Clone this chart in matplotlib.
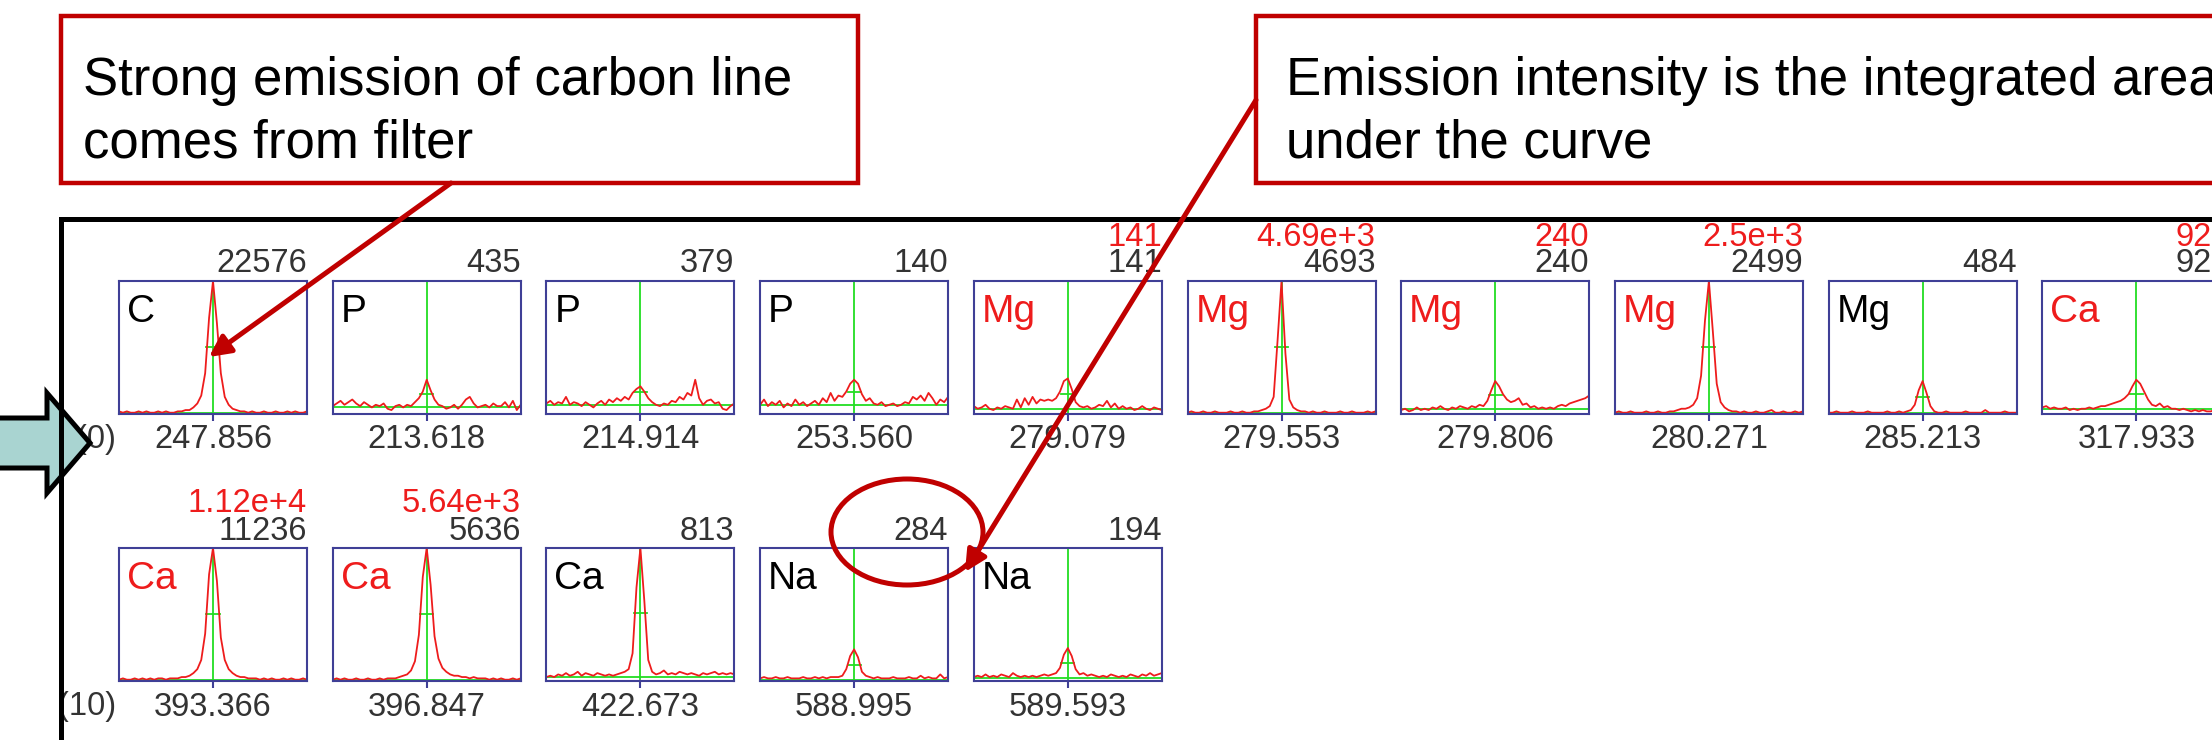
import numpy as np
import matplotlib.pyplot as plt
from matplotlib.patches import Rectangle, Ellipse, Polygon

plt.rcParams['font.family'] = ['Liberation Sans', 'DejaVu Sans']

W, H = 2212, 740

# Panel info (row 0 = first 10, row 1 = last 5)
elements = ["C", "P", "P", "P", "Mg", "Mg", "Mg", "Mg", "Mg", "Ca",
            "Ca", "Ca", "Ca", "Na", "Na"]
wavelengths = ["247.856", "213.618", "214.914", "253.560", "279.079", "279.553",
               "279.806", "280.271", "285.213", "317.933",
               "393.366", "396.847", "422.673", "588.995", "589.593"]
counts = ["22576", "435", "379", "140", "141", "4693", "240", "2499", "484", "920",
          "11236", "5636", "813", "284", "194"]
flag_counts = ["", "", "", "", "141", "4.69e+3", "240", "2.5e+3", "", "920",
               "1.12e+4", "5.64e+3", "", "", ""]
row_labels = ["(0)", "(10)"]
per_row = 10

# green fitted baseline level (fraction of panel height)
baselines = [0.0, 0.04, 0.06, 0.06, 0.03, 0.0, 0.03, 0.0, 0.0, 0.03,
             0.0, 0.0, 0.02, 0.0, 0.01]

# spectra, intensity as fraction of panel height, peak line in the middle
spec_c_247 = [0.01, 0.00, 0.01, 0.00, 0.00, 0.01, 0.00, 0.01, 0.00, 0.00, 0.01, 0.00, 0.01, 0.00, 0.00, 0.01,
              0.01, 0.02, 0.02, 0.04, 0.07, 0.13, 0.30, 0.72, 1.00, 0.68, 0.30, 0.12, 0.06, 0.03, 0.02, 0.01,
              0.01, 0.00, 0.01, 0.00, 0.00, 0.01, 0.00, 0.00, 0.01, 0.00, 0.00, 0.01, 0.00, 0.01, 0.00, 0.00, 0.01]
spec_p_213 = [0.05, 0.07, 0.09, 0.06, 0.08, 0.10, 0.07, 0.05, 0.08, 0.06, 0.04, 0.06, 0.05, 0.07, 0.03, 0.02,
              0.05, 0.06, 0.04, 0.06, 0.05, 0.08, 0.11, 0.16, 0.25, 0.17, 0.10, 0.06, 0.05, 0.03, 0.04, 0.06,
              0.03, 0.06, 0.10, 0.12, 0.07, 0.04, 0.05, 0.06, 0.04, 0.07, 0.05, 0.05, 0.08, 0.04, 0.09, 0.02, 0.06]
spec_p_214 = [0.07, 0.09, 0.06, 0.08, 0.07, 0.12, 0.06, 0.08, 0.07, 0.05, 0.08, 0.06, 0.04, 0.07, 0.09, 0.06,
              0.10, 0.08, 0.11, 0.09, 0.12, 0.10, 0.15, 0.18, 0.20, 0.16, 0.11, 0.08, 0.06, 0.05, 0.07, 0.06,
              0.09, 0.08, 0.12, 0.10, 0.15, 0.13, 0.25, 0.11, 0.06, 0.09, 0.10, 0.07, 0.08, 0.03, 0.02, 0.05, 0.07]
spec_p_253 = [0.06, 0.10, 0.05, 0.08, 0.06, 0.09, 0.04, 0.07, 0.05, 0.10, 0.06, 0.08, 0.05, 0.07, 0.09, 0.06,
              0.11, 0.08, 0.15, 0.09, 0.13, 0.12, 0.16, 0.22, 0.25, 0.22, 0.14, 0.09, 0.11, 0.07, 0.06, 0.08,
              0.05, 0.06, 0.07, 0.05, 0.06, 0.08, 0.07, 0.12, 0.10, 0.13, 0.09, 0.15, 0.11, 0.06, 0.10, 0.08, 0.12]
spec_mg_279079 = [0.05, 0.03, 0.04, 0.06, 0.03, 0.02, 0.04, 0.03, 0.05, 0.04, 0.03, 0.10, 0.04, 0.11, 0.06, 0.12,
                  0.07, 0.10, 0.09, 0.10, 0.09, 0.11, 0.16, 0.24, 0.26, 0.18, 0.08, 0.05, 0.04, 0.05, 0.03, 0.04,
                  0.06, 0.05, 0.09, 0.04, 0.07, 0.03, 0.05, 0.03, 0.04, 0.02, 0.03, 0.05, 0.03, 0.02, 0.04, 0.03, 0.02]
spec_mg_279553 = [0.00, 0.01, 0.00, 0.00, 0.01, 0.00, 0.00, 0.01, 0.00, 0.00, 0.00, 0.01, 0.00, 0.00, 0.01, 0.00,
                  0.00, 0.01, 0.01, 0.02, 0.03, 0.05, 0.12, 0.55, 1.00, 0.45, 0.10, 0.04, 0.02, 0.01, 0.01, 0.00,
                  0.01, 0.00, 0.00, 0.01, 0.00, 0.00, 0.00, 0.01, 0.00, 0.00, 0.01, 0.00, 0.00, 0.00, 0.01, 0.00, 0.01]
spec_mg_279806 = [0.02, 0.03, 0.01, 0.02, 0.04, 0.02, 0.03, 0.02, 0.04, 0.03, 0.05, 0.03, 0.02, 0.04, 0.03, 0.05,
                  0.04, 0.03, 0.05, 0.04, 0.06, 0.05, 0.09, 0.17, 0.24, 0.20, 0.14, 0.10, 0.08, 0.09, 0.11, 0.06,
                  0.07, 0.04, 0.05, 0.03, 0.04, 0.03, 0.04, 0.03, 0.05, 0.06, 0.05, 0.07, 0.08, 0.09, 0.10, 0.11, 0.13]
spec_mg_280271 = [0.00, 0.01, 0.00, 0.00, 0.01, 0.00, 0.00, 0.00, 0.01, 0.00, 0.00, 0.01, 0.00, 0.00, 0.01, 0.01,
                  0.02, 0.03, 0.03, 0.04, 0.06, 0.11, 0.28, 0.70, 1.00, 0.62, 0.22, 0.08, 0.04, 0.02, 0.01, 0.01,
                  0.00, 0.01, 0.00, 0.00, 0.01, 0.00, 0.00, 0.01, 0.02, 0.00, 0.00, 0.01, 0.00, 0.00, 0.01, 0.00, 0.01]
spec_mg_285213 = [0.00, 0.00, 0.01, 0.00, 0.00, 0.00, 0.01, 0.00, 0.00, 0.00, 0.01, 0.00, 0.00, 0.00, 0.00, 0.01,
                  0.00, 0.00, 0.01, 0.00, 0.01, 0.02, 0.06, 0.17, 0.24, 0.15, 0.05, 0.01, 0.00, 0.00, 0.01, 0.00,
                  0.00, 0.00, 0.00, 0.01, 0.00, 0.00, 0.00, 0.00, 0.02, 0.00, 0.00, 0.00, 0.00, 0.01, 0.00, 0.00, 0.00]
spec_ca_317 = [0.04, 0.05, 0.03, 0.04, 0.03, 0.03, 0.04, 0.02, 0.03, 0.02, 0.03, 0.03, 0.04, 0.03, 0.04, 0.05,
               0.05, 0.06, 0.07, 0.08, 0.09, 0.11, 0.14, 0.20, 0.25, 0.22, 0.16, 0.10, 0.06, 0.05, 0.07, 0.04,
               0.05, 0.03, 0.03, 0.02, 0.03, 0.02, 0.01, 0.02, 0.01, 0.02, 0.01, 0.01, 0.02, 0.01, 0.01, 0.02, 0.01]
spec_ca_393 = [0.00, 0.01, 0.00, 0.00, 0.01, 0.00, 0.01, 0.00, 0.01, 0.00, 0.01, 0.01, 0.00, 0.01, 0.01, 0.01,
               0.02, 0.02, 0.03, 0.05, 0.08, 0.15, 0.35, 0.80, 1.00, 0.75, 0.32, 0.15, 0.08, 0.05, 0.03, 0.02,
               0.02, 0.01, 0.01, 0.01, 0.00, 0.01, 0.00, 0.01, 0.00, 0.00, 0.01, 0.00, 0.01, 0.00, 0.00, 0.01, 0.00]
spec_ca_396 = [0.00, 0.01, 0.00, 0.01, 0.00, 0.00, 0.01, 0.00, 0.00, 0.01, 0.00, 0.00, 0.01, 0.00, 0.01, 0.01,
               0.01, 0.02, 0.03, 0.04, 0.07, 0.14, 0.34, 0.78, 1.00, 0.72, 0.33, 0.16, 0.09, 0.06, 0.04, 0.03,
               0.03, 0.02, 0.02, 0.01, 0.02, 0.01, 0.01, 0.01, 0.00, 0.01, 0.00, 0.01, 0.00, 0.00, 0.01, 0.00, 0.01]
spec_ca_422 = [0.02, 0.03, 0.02, 0.04, 0.03, 0.05, 0.03, 0.04, 0.06, 0.03, 0.05, 0.04, 0.03, 0.05, 0.04, 0.03,
               0.04, 0.03, 0.04, 0.05, 0.06, 0.08, 0.20, 0.70, 1.00, 0.60, 0.15, 0.06, 0.04, 0.05, 0.07, 0.04,
               0.05, 0.04, 0.06, 0.05, 0.04, 0.05, 0.04, 0.03, 0.05, 0.04, 0.05, 0.06, 0.04, 0.05, 0.04, 0.05, 0.04]
spec_na_588 = [0.01, 0.02, 0.01, 0.01, 0.02, 0.01, 0.01, 0.02, 0.01, 0.01, 0.01, 0.02, 0.01, 0.01, 0.02, 0.01,
               0.02, 0.01, 0.02, 0.02, 0.02, 0.03, 0.08, 0.18, 0.23, 0.17, 0.06, 0.03, 0.02, 0.01, 0.02, 0.01,
               0.01, 0.01, 0.02, 0.01, 0.01, 0.01, 0.02, 0.01, 0.01, 0.03, 0.01, 0.02, 0.01, 0.01, 0.04, 0.01, 0.02]
spec_na_589 = [0.02, 0.03, 0.02, 0.04, 0.02, 0.03, 0.02, 0.04, 0.03, 0.02, 0.05, 0.03, 0.02, 0.03, 0.02, 0.03,
               0.02, 0.03, 0.04, 0.03, 0.04, 0.05, 0.09, 0.19, 0.24, 0.18, 0.08, 0.04, 0.05, 0.03, 0.04, 0.03,
               0.02, 0.03, 0.02, 0.04, 0.03, 0.02, 0.03, 0.02, 0.04, 0.03, 0.02, 0.04, 0.03, 0.05, 0.03, 0.04, 0.05]

spectra = [spec_c_247, spec_p_213, spec_p_214, spec_p_253, spec_mg_279079, spec_mg_279553,
           spec_mg_279806, spec_mg_280271, spec_mg_285213, spec_ca_317,
           spec_ca_393, spec_ca_396, spec_ca_422, spec_na_588, spec_na_589]

RED = '#EE1C1C'
GREEN = '#22DD22'
NAVY = '#3F3F96'
GREY = '#333333'
DARKRED = '#C00000'

fig = plt.figure(figsize=(W / 100, H / 100), dpi=100)

# panel geometry in pixels
x0, dx, pw = 119, 213.7, 188
y0, dy, ph = 281, 267, 133

for i, spec in enumerate(spectra):
    row, col = divmod(i, per_row)
    left = x0 + dx * col
    top = y0 + dy * row
    ax = fig.add_axes([left / W, 1 - (top + ph) / H, pw / W, ph / H])

    x = np.linspace(0, 1, len(spec))
    spec = np.array(spec)
    peak = spec.max()
    base = baselines[i]
    mid = (peak + base) / 2

    ax.axhline(base, color=GREEN, lw=1.3)
    ax.axvline(0.5, color=GREEN, lw=1.3)
    ax.plot([0.465, 0.535], [mid, mid], color=GREEN, lw=1.3)
    ax.plot(x, spec, color=RED, lw=1.3)

    ax.set_xlim(0, 1)
    ax.set_ylim(-0.01, 1.0)
    ax.set_xticks([0.5])
    ax.set_xticklabels([])
    ax.set_yticks([])
    ax.tick_params(axis='x', length=5, width=1.5, color=NAVY, direction='out')
    for s in ax.spines.values():
        s.set_color(NAVY)
        s.set_linewidth(1.5)

    flagged = flag_counts[i] != ""
    ax.text(8 / pw, 1 - 31 / ph, elements[i], transform=ax.transAxes,
            ha='left', va='center', fontsize=28, color=RED if flagged else 'black')
    ax.text(1.0, 1 + 17 / ph, counts[i], transform=ax.transAxes,
            ha='right', va='center', fontsize=23.5, color=GREY)
    if flagged:
        ax.text(1.0, 1 + 44 / ph, flag_counts[i], transform=ax.transAxes,
                ha='right', va='center', fontsize=23.5, color=RED)
    ax.text(0.5, -26 / ph, wavelengths[i], transform=ax.transAxes,
            ha='center', va='center', fontsize=23.5, color=GREY)
    if col == 0:
        ax.text(-3 / pw, -26 / ph, row_labels[row], transform=ax.transAxes,
                ha='right', va='center', fontsize=23.5, color=GREY)

# overlay in pixel coordinates for the annotations
ov = fig.add_axes([0, 0, 1, 1], zorder=10)
ov.set_xlim(0, W)
ov.set_ylim(H, 0)
ov.axis('off')
ov.patch.set_alpha(0)

# black frame around the spectra
ov.plot([61, 61, W + 10], [H + 10, 219, 219], color='black', lw=3.6,
        solid_joinstyle='miter')

# teal block arrow at left
ov.add_patch(Polygon([(-10, 418), (47, 418), (47, 393), (90, 443), (47, 493),
                      (47, 468), (-10, 468)], closed=True, fc='#A9D4D1',
                     ec='black', lw=3.6, joinstyle='miter'))

# callout boxes
ov.add_patch(Rectangle((61, 16), 797, 167, fc='white', ec=DARKRED, lw=3.2))
ov.add_patch(Rectangle((1256, 16), 1000, 167, fc='white', ec=DARKRED, lw=3.2))
ov.text(83, 95, "Strong emission of carbon line", fontsize=38, va='baseline')
ov.text(83, 158, "comes from filter", fontsize=38, va='baseline')
ov.text(1286, 95, "Emission intensity is the integrated area", fontsize=38, va='baseline')
ov.text(1286, 158, "under the curve", fontsize=38, va='baseline')

# pointers
arrow = dict(arrowstyle='-|>', color=DARKRED, lw=3.6, mutation_scale=32,
             shrinkA=0, shrinkB=0)
ov.annotate('', xy=(209, 357), xytext=(451, 183), arrowprops=arrow)
ov.annotate('', xy=(965, 572), xytext=(1256, 100), arrowprops=arrow)
ov.add_patch(Ellipse((907, 532), 152, 106, fc='none', ec=DARKRED, lw=3.6))

fig.savefig('out.png', dpi=100)
